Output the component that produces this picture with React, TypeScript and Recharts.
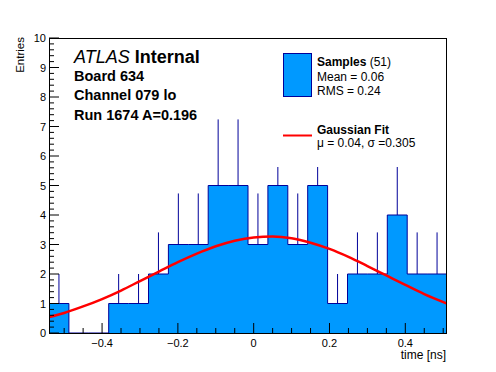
import { ComposedChart, Area, Line, Scatter, ErrorBar, XAxis, YAxis } from "recharts";

// histogram range and per-bin content
const X_MIN = -0.54;
const X_MAX = 0.51;
const counts = [1, 0, 0, 1, 1, 2, 3, 3, 5, 5, 3, 5, 3, 5, 1, 2, 2, 4, 2, 2];
const upperErrors = [1, 0, 0, 1, 1, 1.41, 1.73, 1.73, 2.24, 2.24, 1.73, 2.24, 1.73, 2.24, 1, 1.41, 1.41, 2, 1.41, 1.41];

// gaussian fit curve
const fitX = [-0.54, -0.5, -0.45, -0.4, -0.35, -0.3, -0.25, -0.2, -0.15, -0.1, -0.05, 0, 0.05, 0.1, 0.15, 0.2, 0.25, 0.3, 0.35, 0.4, 0.45, 0.51];
const fitY = [0.54, 0.68, 0.9, 1.15, 1.44, 1.76, 2.08, 2.4, 2.69, 2.94, 3.13, 3.24, 3.27, 3.21, 3.06, 2.85, 2.58, 2.27, 1.95, 1.63, 1.32, 1.0];

const xTicks = [-0.5, -0.45, -0.4, -0.35, -0.3, -0.25, -0.2, -0.15, -0.1, -0.05, 0, 0.05, 0.1, 0.15, 0.2, 0.25, 0.3, 0.35, 0.4, 0.45, 0.5];
const xLabelled = [-0.4, -0.2, 0, 0.2, 0.4];
const yTicks = Array.from({ length: 51 }, (_, i) => Math.round(i * 2) / 10);
const yLabelled = [0, 1, 2, 3, 4, 5, 6, 7, 8, 9, 10];

const FONT = "'Liberation Sans', Arial, Helvetica, sans-serif";
const FILL = "#0099ff";
const EDGE = "#000099";

const binWidth = (X_MAX - X_MIN) / counts.length;
const histData = [
  ...counts.map((c, i) => ({ x: X_MIN + i * binWidth, count: c })),
  { x: X_MAX, count: counts[counts.length - 1] },
];
const errData = counts.map((c, i) => ({
  x: X_MIN + (i + 0.5) * binWidth,
  y: c,
  err: [0, upperErrors[i]],
}));
const fitData = fitX.map((x, i) => ({ x, y: fitY[i] }));

const fmtX = (v: number) => {
  if (Math.abs(v) < 1e-9) return "0";
  return (v < 0 ? "\u2212" : "") + Math.abs(v).toFixed(1);
};

function XTick(props: any) {
  const { x, y, payload } = props;
  const v = payload.value;
  const major = xLabelled.some((m) => Math.abs(m - v) < 1e-6);
  const len = Math.abs(v / 0.2 - Math.round(v / 0.2)) < 1e-6 ? 10 : 5;
  return (
    <g>
      <line x1={x} x2={x} y1={y} y2={y - len} stroke="#000" />
      {major && (
        <text x={x} y={y + 14} textAnchor="middle" fontSize={11} fill="#000" fontFamily={FONT}>
          {fmtX(v)}
        </text>
      )}
    </g>
  );
}

function YTick(props: any) {
  const { x, y, payload } = props;
  const v = payload.value;
  const major = yLabelled.includes(v);
  return (
    <g>
      <line x1={x} x2={x + (major ? 10 : 5)} y1={y} y2={y} stroke="#000" />
      {major && (
        <text x={x - 3} y={y + 4} textAnchor="end" fontSize={11} fill="#000" fontFamily={FONT}>
          {v}
        </text>
      )}
    </g>
  );
}

export default function App() {
  return (
    <div
      style={{
        position: "absolute",
        left: 0,
        top: 0,
        width: 496,
        height: 372,
        background: "#fff",
        fontFamily: FONT,
      }}
    >
      <ComposedChart width={496} height={372} margin={{ top: 38, right: 49, bottom: 0, left: 0 }}>
        <XAxis
          dataKey="x"
          type="number"
          domain={[X_MIN, X_MAX]}
          allowDataOverflow
          ticks={xTicks}
          interval={0}
          tick={(p: any) => <XTick {...p} />}
          tickLine={false}
          tickSize={0}
          tickMargin={0}
          axisLine={false}
          height={39}
        />
        <YAxis
          type="number"
          domain={[0, 10]}
          allowDataOverflow
          ticks={yTicks}
          interval={0}
          tick={(p: any) => <YTick {...p} />}
          tickLine={false}
          tickSize={0}
          tickMargin={0}
          axisLine={false}
          width={49}
        />
        <Area
          data={histData}
          dataKey="count"
          type="stepAfter"
          fill={FILL}
          fillOpacity={1}
          stroke={EDGE}
          strokeWidth={1}
          isAnimationActive={false}
        />
        <Scatter data={errData} dataKey="y" shape={() => <g />} isAnimationActive={false}>
          <ErrorBar dataKey="err" direction="y" width={0} stroke={EDGE} strokeWidth={1} />
        </Scatter>
        <Line
          data={fitData}
          dataKey="y"
          type="monotone"
          dot={false}
          stroke="#ff0000"
          strokeWidth={2.5}
          isAnimationActive={false}
        />
      </ComposedChart>

      <svg
        width={496}
        height={372}
        style={{ position: "absolute", left: 0, top: 0, pointerEvents: "none" }}
        fontFamily={FONT}
      >
        {/* frame */}
        <rect x={49.5} y={38.5} width={397} height={295} fill="none" stroke="#000" />

        {/* axis titles */}
        <text x={24} y={37} transform="rotate(-90 24 37)" textAnchor="end" fontSize={11.5}>
          Entries
        </text>
        <text x={446} y={359} textAnchor="end" fontSize={12}>
          time [ns]
        </text>

        {/* labels */}
        <text x={74} y={62.5} fontSize={18}>
          <tspan fontStyle="italic">ATLAS</tspan>
          <tspan fontWeight="bold"> Internal</tspan>
        </text>
        <text x={74} y={80.5} fontSize={14.5} fontWeight="bold">Board 634</text>
        <text x={74} y={100} fontSize={14.5} fontWeight="bold">Channel 079 lo</text>
        <text x={74} y={119.5} fontSize={14.5} fontWeight="bold">Run 1674 A=0.196</text>

        {/* legend */}
        <rect x={262} y={40} width={182} height={127} fill="#fff" />
        <rect x={283.5} y={53.5} width={28} height={43} fill={FILL} stroke={EDGE} />
        <text x={317} y={66} fontSize={12}>
          <tspan fontWeight="bold">Samples</tspan>
          <tspan> (51)</tspan>
        </text>
        <text x={317} y={81} fontSize={12}>Mean = 0.06</text>
        <text x={317} y={95} fontSize={12}>RMS = 0.24</text>
        <line x1={283} x2={312} y1={135.5} y2={135.5} stroke="#ff0000" strokeWidth={2} />
        <text x={317} y={133.5} fontSize={12} fontWeight="bold">Gaussian Fit</text>
        <text x={317} y={146.5} fontSize={12}>{"\u03bc = 0.04, \u03c3 =0.305"}</text>
      </svg>
    </div>
  );
}
